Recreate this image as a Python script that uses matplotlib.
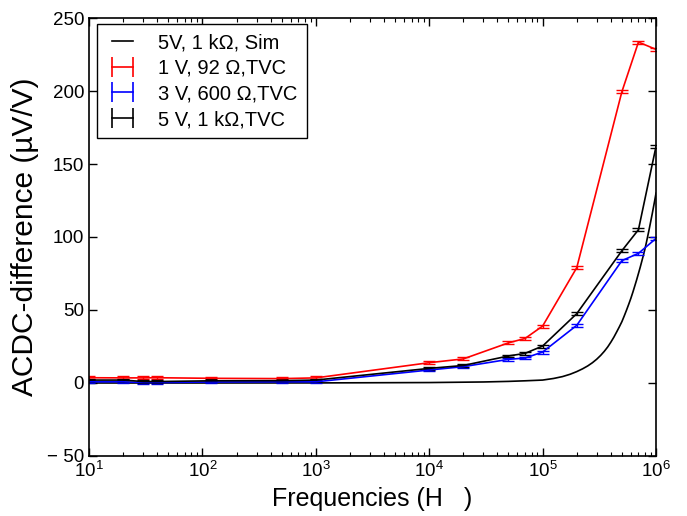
import numpy as np
import matplotlib
matplotlib.use("Agg")
import matplotlib.pyplot as plt
from matplotlib.lines import Line2D

plt.rcParams['font.family'] = ['Liberation Sans', 'DejaVu Sans']
plt.rcParams['mathtext.default'] = 'regular'

# measured frequencies (Hz)
freq = [10, 20, 30, 40, 120, 500, 1000, 1e4, 2e4, 5e4, 7e4, 1e5, 2e5, 5e5, 7e5, 1e6]

# ACDC-difference (uV/V)
red_1V = [3.6, 3.5, 3.5, 3.6, 3.2, 3.0, 3.5, 13.9, 16.5, 27.5, 30.5, 39.0, 79.0, 199.5, 233.5, 228.5]
blue_3V = [0.8, 0.8, 0.3, 0.3, 0.7, 0.8, 0.8, 8.9, 11.2, 16.2, 17.1, 21.2, 39.5, 83.8, 88.8, 99.0]
black_5V = [2.0, 2.0, 1.0, 1.0, 1.5, 1.6, 2.0, 10.0, 12.0, 18.5, 20.3, 25.3, 47.5, 90.6, 105.0, 162.0]
err_red = [1.0] * 16
err_blue = [1.0] * 16
err_black = [1.0] * 16

# simulation
sim_freq = [10, 100, 1e3, 1e4, 3e4, 5e4, 7e4, 1e5, 1.25e5, 1.5e5, 1.75e5, 2e5, 2.25e5, 2.5e5,
            2.75e5, 3e5, 3.25e5, 3.5e5, 3.75e5, 4e5, 4.25e5, 4.5e5, 4.75e5, 5e5, 5.25e5, 5.5e5,
            5.75e5, 6e5, 6.25e5, 6.5e5, 6.75e5, 7e5, 7.25e5, 7.5e5, 7.75e5, 8e5, 8.25e5, 8.5e5,
            8.75e5, 9e5, 9.25e5, 9.5e5, 9.75e5, 1e6]
sim_5V = [0.0, 0.0, 0.05, 0.3, 0.7, 1.1, 1.5, 2.0, 3.1, 4.4, 6.0, 7.8, 9.7, 11.7,
          13.9, 16.3, 18.9, 21.7, 24.7, 28.0, 31.4, 35.0, 38.5, 42.0, 46.0, 50.0,
          54.0, 58.0, 62.2, 66.5, 70.7, 75.0, 79.2, 83.5, 87.7, 92.0, 96.7, 101.5,
          106.2, 111.0, 115.7, 120.5, 125.2, 130.0]

fig = plt.figure(figsize=(6.87, 5.16), dpi=100)
ax = fig.add_axes([0.1296, 0.1163, 0.8253, 0.8488])

ax.plot(sim_freq, sim_5V, color='black', lw=1.2)
ax.errorbar(freq, red_1V, yerr=err_red, color='red', lw=1.2, capsize=4, elinewidth=1.0)
ax.errorbar(freq, blue_3V, yerr=err_blue, color='blue', lw=1.2, capsize=4, elinewidth=1.0)
ax.errorbar(freq, black_5V, yerr=err_black, color='black', lw=1.2, capsize=4, elinewidth=1.0)

ax.set_xscale('log')
ax.set_xlim(10, 1e6)
ax.set_ylim(-50, 250)
ax.set_yticks([-50, 0, 50, 100, 150, 200, 250])
ax.set_yticklabels(['\u2212 50', '0', '50', '100', '150', '200', '250'])
ax.tick_params(which='both', direction='in', top=True, right=True, labelsize=13.5)
ax.tick_params(which='major', length=6, width=1)
ax.tick_params(which='minor', length=3, width=0.8)
for sp in ax.spines.values():
    sp.set_linewidth(1.2)

ax.set_xlabel('Frequencies (H   )', fontsize=18)
ax.set_ylabel('ACDC-difference (\u00b5V/V)', fontsize=21.5, labelpad=6)

handles = [
    Line2D([], [], color='black', lw=1.2),
    Line2D([], [], color='red', lw=1.2, marker='|', markersize=14, markeredgewidth=1.2),
    Line2D([], [], color='blue', lw=1.2, marker='|', markersize=14, markeredgewidth=1.2),
    Line2D([], [], color='black', lw=1.2, marker='|', markersize=14, markeredgewidth=1.2),
]
labels = ['5V, 1 k\u03a9, Sim', '1 V, 92 \u03a9,TVC', '3 V, 600 \u03a9,TVC', '5 V, 1 k\u03a9,TVC']
leg = ax.legend(handles, labels, loc='upper left', bbox_to_anchor=(0.014, 0.986),
                borderaxespad=0, fontsize=14.5, numpoints=2, fancybox=False,
                edgecolor='black', framealpha=1, handlelength=1.65, handletextpad=0.95,
                labelspacing=0.33, borderpad=0.45)
leg.get_frame().set_linewidth(1.0)

fig.savefig('out.png', dpi=100)
